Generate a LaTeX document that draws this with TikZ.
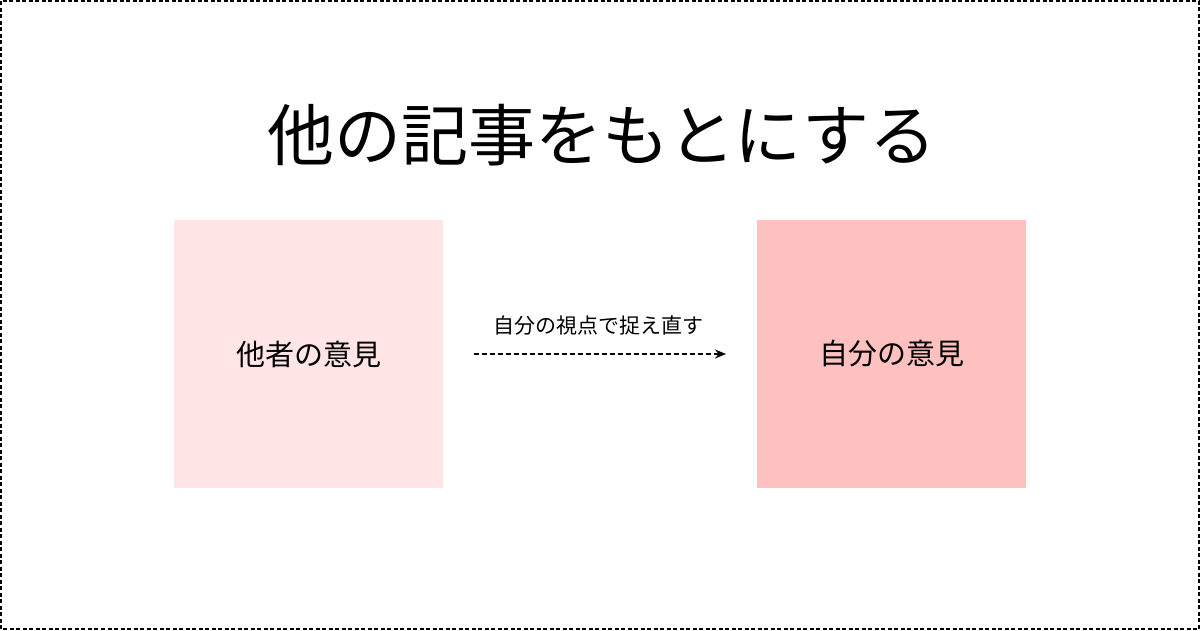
\documentclass[tikz,border=0pt]{standalone}
\usepackage{fontspec}
\setmainfont{Noto Sans CJK JP}
\usetikzlibrary{arrows.meta}
\definecolor{pinkA}{HTML}{FFE5E5}
\definecolor{pinkB}{HTML}{FFC0C0}
\tikzset{
  opbox/.style={minimum width=269pt, minimum height=268pt, inner sep=0pt, anchor=center},
  boxlabel/.style={font=\fontsize{29}{34}\selectfont, text=black},
  conn/.style={dash pattern=on 5pt off 3pt, line width=2.2pt, -{Stealth[length=11pt,width=9pt]}},
}
\begin{document}
\begin{tikzpicture}[x=1pt,y=-1pt]
\useasboundingbox (0,0) rectangle (1200,630);
\draw[line width=2pt, dash pattern=on 4pt off 2.5pt] (1,1) rectangle (1199,629);
\node[font=\fontsize{67}{78}\selectfont] (title) at (602,135) {他の記事をもとにする};
\node[opbox, fill=pinkA] (left) at (308.5,354) {};
\node[boxlabel] (leftlabel) at (left.center) {他者の意見};
\node[opbox, fill=pinkB] (right) at (891.5,354) {};
\node[boxlabel] (rightlabel) at (right.center) {自分の意見};
\coordinate (a1) at (474,354);
\coordinate (a2) at (726,354);
\draw[conn] (a1) -- (a2);
\node[font=\fontsize{21}{25}\selectfont] (arrowlabel) at (598,326) {自分の視点で捉え直す};
\end{tikzpicture}
\end{document}
